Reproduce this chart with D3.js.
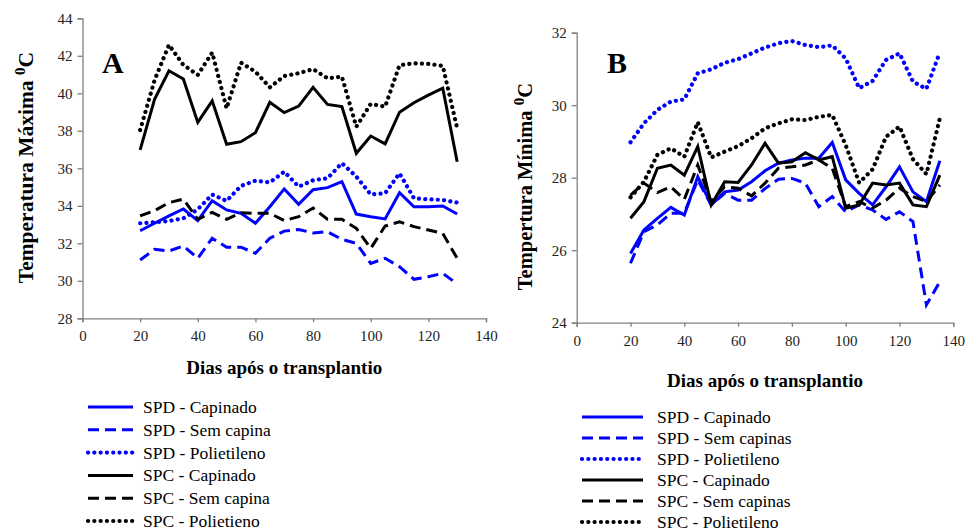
<!DOCTYPE html>
<html><head><meta charset="utf-8">
<script src="https://cdn.jsdelivr.net/npm/d3@7/dist/d3.min.js"></script>
<style>
body{margin:0;background:#fff;}
svg, svg text{font-family:'Liberation Serif','DejaVu Serif','Times New Roman',Times,serif;}
</style></head>
<body><svg id="c" width="970" height="531"></svg>
<script>
// ---------- DATA ----------
const daysA = [20,25,30,35,40,45,50,55,60,65,70,75,80,85,90,95,100,105,110,115,120,125,130];
const daysB = [20,25,30,35,40,45,50,55,60,65,70,75,80,85,90,95,100,105,110,115,120,125,130,135];

const seriesNamesA = ["SPD - Capinado","SPD - Sem capina","SPD - Polietileno","SPC - Capinado","SPC - Sem capina","SPC - Polietieno"];
const seriesNamesB = ["SPD - Capinado","SPD - Sem capinas","SPD - Polietileno","SPC - Capinado","SPC - Sem capinas","SPC - Polietileno"];

const aSpdCapinado   = [32.67,33.07,33.46,33.83,33.21,34.27,33.78,33.6,33.07,33.95,34.9,34.08,34.86,34.97,35.29,33.56,33.42,33.3,34.7,33.95,33.95,33.99,33.56];
const aSpdSemCapina  = [31.11,31.68,31.59,31.86,31.2,32.27,31.79,31.79,31.47,32.27,32.65,32.74,32.55,32.62,32.21,32.0,30.93,31.2,30.75,30.08,30.22,30.4,29.83];
const aSpdPoliet     = [33.07,33.12,33.19,33.33,33.81,34.6,34.26,35.06,35.34,35.25,35.82,35.02,35.36,35.47,36.27,35.56,34.61,34.67,35.73,34.4,34.35,34.31,34.17];
const aSpcCapinado   = [36.98,39.68,41.2,40.76,38.45,39.6,37.28,37.42,37.9,39.52,38.97,39.32,40.32,39.41,39.29,36.8,37.72,37.3,38.99,39.5,39.9,40.27,36.35];
const aSpcSemCapina  = [33.46,33.74,34.17,34.36,33.28,33.65,33.28,33.63,33.6,33.6,33.21,33.42,33.88,33.28,33.28,32.8,31.73,32.92,33.15,32.89,32.71,32.53,31.2];
const aSpcPoliet     = [38.04,40.7,42.58,41.51,40.98,42.17,39.2,41.63,41.15,40.32,40.92,41.07,41.29,40.8,40.89,38.22,39.43,39.29,41.5,41.6,41.57,41.46,38.13];

const bSpdCapinado   = [25.91,26.56,26.88,27.18,26.97,28.03,27.25,27.61,27.66,27.89,28.19,28.4,28.49,28.54,28.54,28.97,27.94,27.57,27.25,27.75,28.3,27.61,27.34,28.47];
const bSpdSemCapinas = [25.64,26.51,26.7,27.02,27.02,27.94,27.25,27.57,27.38,27.38,27.7,27.96,27.98,27.85,27.2,27.48,27.06,27.25,27.11,26.85,27.06,26.79,24.49,25.13];
const bSpdPoliet     = [28.98,29.5,29.87,30.1,30.16,30.88,30.99,31.17,31.27,31.43,31.59,31.71,31.77,31.66,31.6,31.65,31.29,30.47,30.67,31.25,31.43,30.65,30.45,31.46];
const bSpcCapinado   = [26.88,27.34,28.26,28.35,28.07,28.86,27.25,27.89,27.87,28.35,28.95,28.4,28.44,28.69,28.49,28.58,27.16,27.25,27.85,27.8,27.85,27.25,27.2,28.07];
const bSpcSemCapinas = [27.52,27.85,27.59,27.75,27.4,28.35,27.34,27.75,27.71,27.5,27.85,28.26,28.3,28.35,28.49,28.26,27.2,27.34,27.16,27.38,27.71,27.48,27.34,27.8];
const bSpcPoliet     = [27.46,27.89,28.63,28.81,28.58,29.53,28.56,28.72,28.87,29.09,29.36,29.5,29.61,29.59,29.68,29.73,28.9,27.86,28.23,29.13,29.41,28.51,28.1,29.64];

const xTicks = [0,20,40,60,80,100,120,140];
const yTicksA = [28,30,32,34,36,38,40,42,44];
const yTicksB = [24,26,28,30,32];

// ---------- STYLES ----------
const styles = [
  {color:"#0000ff", dash:null, w:3},
  {color:"#0000ff", dash:"11,6", w:3},
  {color:"#0000ff", dash:"0.1,6.2", w:4.2, dot:true},
  {color:"#000000", dash:null, w:3},
  {color:"#000000", dash:"11,6", w:3},
  {color:"#000000", dash:"0.1,6.2", w:4.2, dot:true}
];

const svg = d3.select("#c");

function panel(cfg){
  const x = d3.scaleLinear().domain([0,140]).range([cfg.x0,cfg.x1]);
  const y = d3.scaleLinear().domain(cfg.ydom).range([cfg.y1,cfg.y0]);
  const g = svg.append("g");

  const ya = g.append("g").attr("transform",`translate(${cfg.x0},0)`)
    .call(d3.axisLeft(y).tickValues(cfg.yTicks).tickSize(5).tickPadding(5).tickFormat(d3.format("d")));
  const xa = g.append("g").attr("transform",`translate(0,${cfg.y1})`)
    .call(d3.axisBottom(x).tickValues(xTicks).tickSize(4).tickPadding(cfg.xpad).tickFormat(d3.format("d")));
  [ya,xa].forEach(a=>{
    a.attr("font-family",null);
    a.select(".domain").attr("stroke","#808080").attr("stroke-width",1.3);
    a.selectAll(".tick line").attr("stroke","#808080").attr("stroke-width",1.3);
    a.selectAll("text").attr("font-size",15).attr("fill","#222");
  });

  const line = d3.line().x((d,i)=>x(cfg.days[i])).y(d=>y(d));
  cfg.series.forEach((s,k)=>{
    const st = styles[k];
    g.append("path").datum(s).attr("d",line)
      .attr("fill","none").attr("stroke",st.color).attr("stroke-width",st.w)
      .attr("stroke-dasharray",st.dash).attr("stroke-linecap",st.dot?"round":"butt")
      .attr("stroke-linejoin","miter");
  });

  g.append("text").attr("x",cfg.letterX).attr("y",73).attr("font-size",30).attr("font-weight","bold").text(cfg.letter);

  const yt = g.append("text").attr("transform",`translate(${cfg.ytX},${cfg.ytTop}) rotate(-90)`)
    .attr("text-anchor","end").attr("font-size",cfg.ytSize).attr("font-weight","bold");
  yt.append("tspan").text(cfg.ytitle+"  ");
  yt.append("tspan").attr("font-size",15).attr("dy",-8).text("0");
  yt.append("tspan").attr("dy",8).text("C");

  g.append("text").attr("x",(cfg.x0+cfg.x1)/2).attr("y",cfg.xtY).attr("text-anchor","middle")
    .attr("font-size",19).attr("font-weight","bold").text("Dias após o transplantio");

  cfg.names.forEach((n,k)=>{
    const st = styles[k];
    const yy = cfg.legY0 + k*cfg.legDy;
    g.append("line").attr("x1",cfg.legX0).attr("x2",cfg.legX1).attr("y1",yy).attr("y2",yy)
      .attr("stroke",st.color).attr("stroke-width",st.w).attr("stroke-dasharray",st.dash)
      .attr("stroke-linecap",st.dot?"round":"butt");
    g.append("text").attr("x",cfg.legTx).attr("y",yy+6).attr("font-size",17.5).attr("fill","#000").text(n);
  });
}

panel({x0:82.5,x1:486,y0:18.3,y1:318.3,ydom:[28,44],yTicks:yTicksA,days:daysA,
  series:[aSpdCapinado,aSpdSemCapina,aSpdPoliet,aSpcCapinado,aSpcSemCapina,aSpcPoliet],
  letter:"A",letterX:102,ytitle:"Temperatura Máxima",ytX:33,ytTop:52,ytSize:21.5,xtY:374,xpad:8,
  names:seriesNamesA,legX0:88,legX1:133,legTx:143,legY0:407,legDy:22.8});

panel({x0:576.7,x1:953.3,y0:32.7,y1:322.7,ydom:[24,32],yTicks:yTicksB,days:daysB,
  series:[bSpdCapinado,bSpdSemCapinas,bSpdPoliet,bSpcCapinado,bSpcSemCapinas,bSpcPoliet],
  letter:"B",letterX:607,ytitle:"Tempertura Mínima",ytX:532,ytTop:83,ytSize:20.5,xtY:387,xpad:9,
  names:seriesNamesB,legX0:582,legX1:643,legTx:657,legY0:417,legDy:21});
</script></body></html>
